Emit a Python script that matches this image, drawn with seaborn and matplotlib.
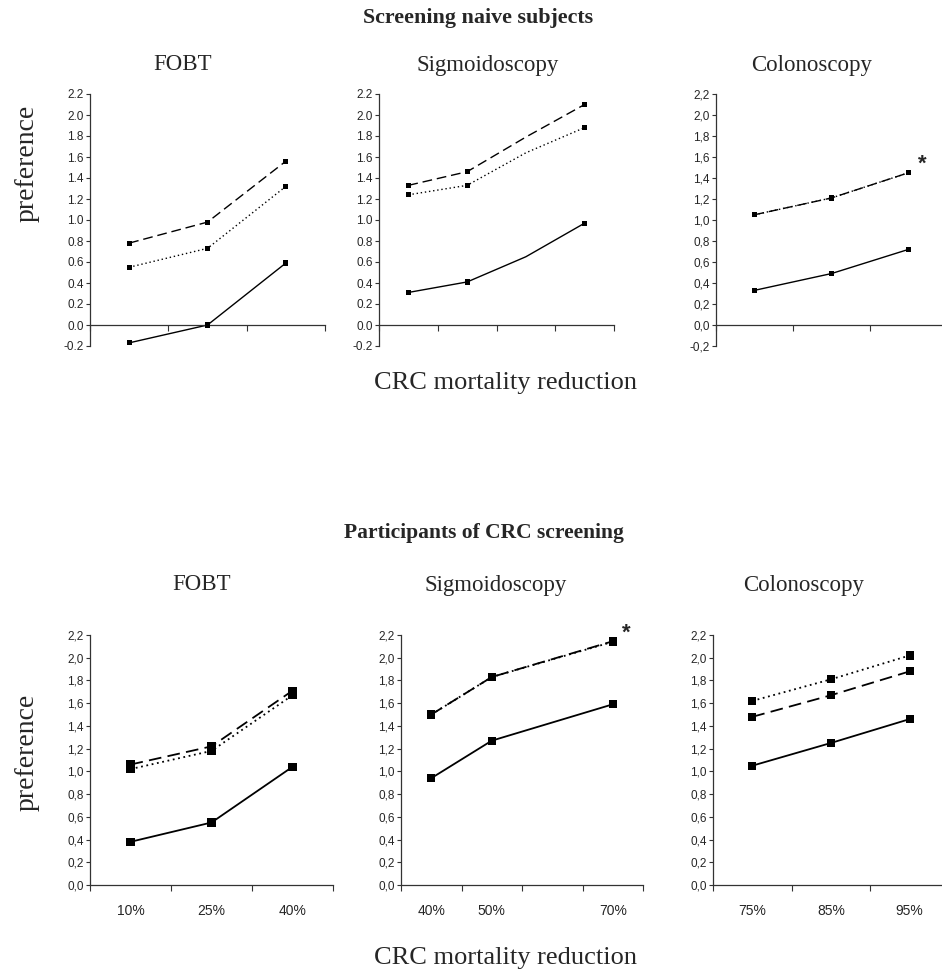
import numpy as np
import matplotlib
matplotlib.use("Agg")
import matplotlib.pyplot as plt
from matplotlib.ticker import FuncFormatter
import seaborn as sns

# ---------------
# data
# ---------------
fobt_x = [10, 25, 40]
sig_x = [40, 50, 60, 70]
col_x = [75, 85, 95]

fobt_labels = ["10%", "25%", "40%"]
sig_labels = ["40%", "50%", "", "70%"]
col_labels = ["75%", "85%", "95%"]

# screening naive subjects (60% sigmoidoscopy point is a bend without marker)
naive_fobt_solid = [-0.17, 0.00, 0.59]
naive_fobt_dashed = [0.78, 0.98, 1.56]
naive_fobt_dotted = [0.55, 0.73, 1.32]
naive_sig_solid = [0.31, 0.41, 0.65, 0.97]
naive_sig_dashed = [1.33, 1.46, 1.79, 2.10]
naive_sig_dotted = [1.24, 1.33, 1.64, 1.88]
naive_sig_marked = [40, 50, 70]
naive_col_solid = [0.33, 0.49, 0.72]
naive_col_dashed = [1.05, 1.21, 1.45]
naive_col_dotted = [1.05, 1.21, 1.45]

# participants of CRC screening
part_sig_x = [40, 50, 70]
part_fobt_solid = [0.38, 0.55, 1.04]
part_fobt_dashed = [1.06, 1.22, 1.71]
part_fobt_dotted = [1.02, 1.18, 1.67]
part_sig_solid = [0.94, 1.27, 1.59]
part_sig_dashed = [1.50, 1.83, 2.145]
part_sig_dotted = [1.50, 1.83, 2.14]
part_col_solid = [1.05, 1.25, 1.46]
part_col_dashed = [1.48, 1.67, 1.88]
part_col_dotted = [1.62, 1.81, 2.02]

# ---------------
sns.set_style("ticks")
plt.rcParams["font.family"] = ["Liberation Sans", "DejaVu Sans"]
plt.rcParams["axes.unicode_minus"] = False

W, H = 942, 976
fig = plt.figure(figsize=(W / 100, H / 100), dpi=100)

SERIF = ["Liberation Serif", "DejaVu Serif"]
STYLES = {"solid": "-", "dashed": (0, (7, 3.5)), "dotted": (0, (1, 2))}


def px_axes(left, top, right, bottom):
    return fig.add_axes([left / W, 1 - bottom / H, (right - left) / W, (bottom - top) / H])


def setup(ax, levels, labels, ylo, dec, title, title_y):
    step = levels[1] - levels[0]
    lo, hi = levels[0] - step / 2, levels[-1] + step / 2
    ax.set_xlim(lo, hi)
    ax.set_xticks(np.arange(lo, hi + step / 2, step))
    ax.set_xticklabels([])
    ax.set_xticks(levels, minor=True)
    ax.set_xticklabels(labels if labels else [""] * len(levels), minor=True, fontsize=8.5)
    ax.tick_params(axis="x", which="minor", length=0, pad=14)
    ax.tick_params(axis="x", which="major", length=4, width=0.8, direction="out", color="#333333")
    ax.set_ylim(ylo, 2.2)
    ax.set_yticks(np.round(np.arange(ylo, 2.21, 0.2), 1))
    ax.yaxis.set_major_formatter(FuncFormatter(lambda v, p: f"{v:.1f}".replace(".", dec)))
    ax.tick_params(axis="y", length=3, width=0.8, pad=1.5, labelsize=8.5, color="#333333")
    ax.spines["bottom"].set_position(("data", 0))
    for s in ["top", "right"]:
        ax.spines[s].set_visible(False)
    for s in ["left", "bottom"]:
        ax.spines[s].set_color("#333333")
        ax.spines[s].set_linewidth(0.9)
    ax.set_xlabel("")
    ax.set_ylabel("")
    ax.patch.set_alpha(0)
    fig.text(title_y[0] / W, 1 - title_y[1] / H, title, family=SERIF, fontsize=16.5,
             ha="center", va="center")


def draw(ax, x, series, lw, ms, marked=None):
    for name, y in series.items():
        sns.lineplot(x=x, y=y, ax=ax, color="black", linewidth=lw,
                     linestyle=STYLES[name], estimator=None, sort=False)
        mx = [a for a in x if marked is None or a in marked]
        my = [b for a, b in zip(x, y) if marked is None or a in marked]
        sns.scatterplot(x=mx, y=my, ax=ax, marker="s", s=ms, color="black",
                        edgecolor="none", zorder=5, clip_on=False)


# top row: screening naive subjects
ax = px_axes(90, 94, 325, 346)
draw(ax, fobt_x, {"solid": naive_fobt_solid, "dashed": naive_fobt_dashed,
                  "dotted": naive_fobt_dotted}, 1.0, 14)
setup(ax, fobt_x, None, -0.2, ".", "FOBT", (183, 65))

ax = px_axes(379, 94, 614, 346)
draw(ax, sig_x, {"solid": naive_sig_solid, "dashed": naive_sig_dashed,
                 "dotted": naive_sig_dotted}, 1.0, 14, marked=naive_sig_marked)
setup(ax, sig_x, None, -0.2, ".", "Sigmoidoscopy", (488, 65))

ax = px_axes(716, 94, 947, 346)
draw(ax, col_x, {"solid": naive_col_solid, "dashed": naive_col_dashed,
                 "dotted": naive_col_dotted}, 1.0, 14)
setup(ax, col_x, None, -0.2, ",", "Colonoscopy", (812, 65))
ax.annotate("*", xy=(col_x[-1], naive_col_dashed[-1]), xytext=(10, 6),
            textcoords="offset points", fontsize=16, fontweight="bold",
            ha="center", va="center")

# bottom row: participants of CRC screening
ax = px_axes(90, 635, 333, 885)
draw(ax, fobt_x, {"solid": part_fobt_solid, "dashed": part_fobt_dashed,
                  "dotted": part_fobt_dotted}, 1.3, 34)
setup(ax, fobt_x, fobt_labels, 0.0, ",", "FOBT", (202, 585))

ax = px_axes(401, 635, 643, 885)
draw(ax, part_sig_x, {"solid": part_sig_solid, "dashed": part_sig_dashed,
                      "dotted": part_sig_dotted}, 1.3, 34)
setup(ax, sig_x, sig_labels, 0.0, ",", "Sigmoidoscopy", (496, 585))
ax.annotate("*", xy=(part_sig_x[-1], part_sig_dashed[-1]), xytext=(10, 6),
            textcoords="offset points", fontsize=16, fontweight="bold",
            ha="center", va="center")

ax = px_axes(713, 635, 949, 885)
draw(ax, col_x, {"solid": part_col_solid, "dashed": part_col_dashed,
                 "dotted": part_col_dotted}, 1.3, 34)
setup(ax, col_x, col_labels, 0.0, ",", "Colonoscopy", (804, 585))

# figure texts
fig.text(478 / W, 1 - 18 / H, "Screening naive subjects", family=SERIF,
         fontsize=15.8, fontweight="bold", ha="center", va="center")
fig.text(484 / W, 1 - 533 / H, "Participants of CRC screening", family=SERIF,
         fontsize=15.5, fontweight="bold", ha="center", va="center")
for yc in (163, 752):
    fig.text(27 / W, 1 - yc / H, "preference", family=SERIF, fontsize=20,
             rotation=90, ha="center", va="center")
for yc in (383, 958):
    fig.text(505 / W, 1 - yc / H, "CRC mortality reduction", family=SERIF,
             fontsize=19, ha="center", va="center")

fig.savefig("out.png", dpi=100)
